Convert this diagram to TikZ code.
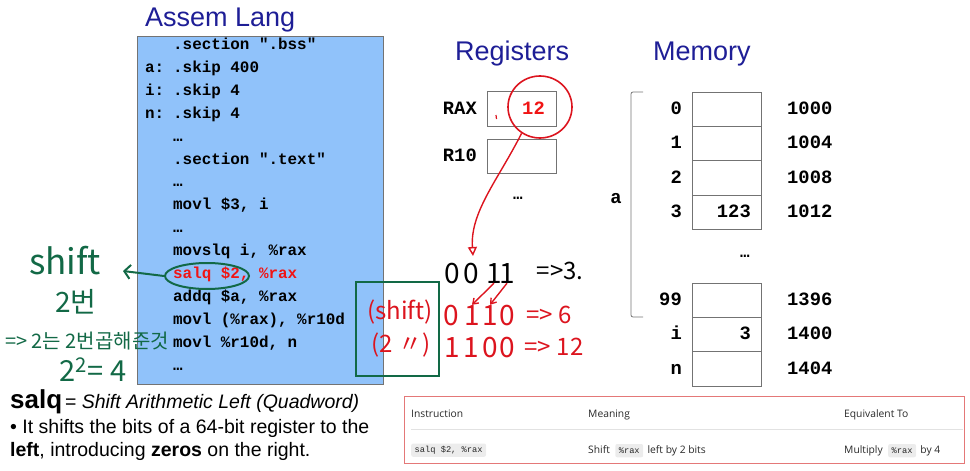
\documentclass[tikz,border=0pt]{standalone}
\usepackage{fontspec}
\setmainfont{Liberation Sans}
\setmonofont{Liberation Mono}
\newfontfamily\handfont{Noto Sans CJK KR}
\newfontfamily\tablefont{Open Sans}
\usetikzlibrary{arrows.meta,positioning,calc,shapes.geometric}
\definecolor{navy2}{RGB}{30,30,150}
\definecolor{codebg}{RGB}{144,194,250}
\definecolor{boxgray}{RGB}{115,115,115}
\definecolor{codered}{RGB}{240,20,20}
\definecolor{redink}{RGB}{220,20,30}
\definecolor{greenink}{RGB}{18,105,70}
\definecolor{tablered}{RGB}{228,120,120}
\definecolor{chipgray}{RGB}{236,236,236}
\definecolor{sepgray}{RGB}{226,226,226}
\definecolor{tabletext}{RGB}{40,40,40}
\newcommand\inksize[1]{\fontsize{#1}{#1}\selectfont}
\tikzset{
  titletext/.style={font=\inksize{27}, text=navy2, inner sep=0pt, anchor=base west},
  codeline/.style={font=\inksize{15.9}\ttfamily\bfseries, inner sep=0pt, anchor=base west},
  memtext/.style={font=\inksize{18.8}\ttfamily\bfseries, inner sep=0pt, text height=11pt, text depth=0pt},
  cell/.style={draw=boxgray, thick, minimum width=69, minimum height=34.3, outer sep=0pt, inner sep=0pt},
  greenhand/.style={text=greenink, inner sep=0pt},
  redhand/.style={text=redink, inner sep=0pt, font=\handfont\inksize{24}},
  digit/.style={inner sep=0pt, font=\handfont\inksize{28}, text height=20pt, text depth=0pt},
  tabtext/.style={font=\tablefont\inksize{10.3}, text=tabletext, inner sep=0pt, anchor=base west},
  chip/.style={fill=chipgray, rounded corners=2pt, font=\ttfamily\inksize{8.7}, text=tabletext,
    inner xsep=3.5pt, inner ysep=2.5pt, text height=6.5pt, text depth=1.8pt, anchor=base west},
  inkarrow/.style={-{Straight Barb[length=5pt, width=7pt]}, line width=1.4pt}
}
\begin{document}
\begin{tikzpicture}[x=1pt, y=-1pt]
\useasboundingbox (0,0) rectangle (970,471);

% Assembly listing
\node[titletext] (asmtitle) at (145,27) {Assem Lang};
\node[draw=boxgray, thick, fill=codebg, minimum width=246, minimum height=348,
  anchor=north west, inner sep=0pt] (codebox) at (137,36) {};
\foreach \txt [count=\k from 0] in {{.section ".bss"}, {.skip 400}, {.skip 4}, {.skip 4}, {…},
    {.section ".text"}, {…}, {movl \$3, i}, {…}, {movslq i, \%rax},
    {\textcolor{codered}{salq \$2, \%rax}}, {addq \$a, \%rax}, {movl (\%rax), \%r10d},
    {movl \%r10d, n}, {…}}
  \node[codeline] (code\k) at (173, 49.5+22.9*\k) {\txt};
\node[codeline] (labela) at (145,72.4) {a:};
\node[codeline] (labeli) at (145,95.3) {i:};
\node[codeline] (labeln) at (145,118.2) {n:};

% Registers
\node[titletext] (regtitle) at (455,60) {Registers};
\node[cell, minimum height=35, anchor=north west] (rax) at (487,91) {};
\node[cell, minimum height=34, below=13pt of rax] (r10) {};
\node[memtext, left=10pt of rax] (raxlbl) {RAX};
\node[memtext, left=10pt of r10] (r10lbl) {R10};
\node[memtext, anchor=east, text=codered] (raxval) at ($(rax.east)+(-11,0)$) {12};
\node[codeline, anchor=base] (regdots) at (518,199) {…};

% Memory
\node[titletext] (memtitle) at (653,60) {Memory};
\node[cell, anchor=north west] (m0) at (692,92) {};
\node[cell, below=0pt of m0] (m1) {};
\node[cell, below=0pt of m1] (m2) {};
\node[cell, below=0pt of m2] (m3) {};
\node[cell, anchor=north west] (m99) at (692,283) {};
\node[cell, below=0pt of m99] (mi) {};
\node[cell, below=0pt of mi] (mn) {};
\foreach \c/\lbl/\addr in {m0/0/1000, m1/1/1004, m2/2/1008, m3/3/1012, m99/99/1396, mi/i/1400, mn/n/1404} {
  \node[memtext, left=10pt of \c] (idx\c) {\lbl};
  \node[memtext, right=26pt of \c] (addr\c) {\addr};
}
\node[memtext, anchor=east] (val3) at ($(m3.east)+(-10,0)$) {123};
\node[memtext, anchor=east] (vali) at ($(mi.east)+(-10,0)$) {3};
\node[codeline, anchor=base] (memdots) at (745,257) {…};
\draw[boxgray, thick, rounded corners=2pt] (643,92) -- (631,92) -- (631,317) -- (643,317);
\node[memtext] (arrlbl) at (616,198) {a};

% green notes
\node[ellipse, draw=greenink, line width=2pt, minimum width=84, minimum height=26] (salqring) at (207,276) {};
\coordinate (shiftarrow) at (123,271);
\draw[greenink, line width=2pt, -{Straight Barb[length=6pt, width=14pt]}] (salqring.west) -- (shiftarrow);
\node[greenhand, font=\handfont\inksize{35}] (shiftnote) at (65,261) {shift};
\node[greenhand, font=\handfont\inksize{28}] (twonote) at (76,302) {2번};
\node[greenhand, font=\handfont\inksize{20}] (multnote) at (87,341) {=> 2는 2번곱해준것};
\node[greenhand, font=\handfont\inksize{29}] (squarenote) at (93,370) {2\textsuperscript{2}= 4};
\node[draw=greenink, line width=2.4pt, minimum width=83, minimum height=94, anchor=north west,
  inner sep=0pt] (shiftbox) at (355,281) {};

% red notes
\node[ellipse, draw=redink, line width=1.6pt, minimum width=64, minimum height=62] (ring12) at (540,107) {};
\draw[redink, line width=1.2pt] (496,115) -- (496.5,119);
\coordinate (arrowtip) at (473,256);
\draw[redink, line width=1.4pt, -{Triangle[open, length=9pt, width=9pt]}]
  (ring12.235) .. controls (498,180) and (470,212) .. (arrowtip);
\foreach \x/\d [count=\k] in {452/0, 471/0, 494/1, 507/1}
  \node[digit] (top\k) at (\x,273) {\d};
\foreach \x/\d [count=\k] in {451/0, 472/1, 490/1, 507/0}
  \node[digit, text=redink] (mid\k) at (\x,315) {\d};
\foreach \x/\d [count=\k] in {452/1, 471/1, 490/0, 507/0}
  \node[digit, text=redink] (bot\k) at (\x,347) {\d};
\node[inner sep=0pt, font=\handfont\inksize{24}] (res3) at (560,271) {=>3.};
\node[redhand] (res6) at (549,315) {=> 6};
\node[redhand] (res12) at (554,347) {=> 12};
\node[redhand] (shiftlbl) at (400,312) {(shift)};
\node[redhand] (twolbl) at (401,345) {(2 〃)};
\draw[redink, inkarrow] (top3.south) -- (mid2.north);
\draw[redink, inkarrow] (top4.south) -- (mid3.north);

% salq description
\node[anchor=base west, inner sep=0pt] (salqdef) at (10,408)
  {{\inksize{26}\bfseries salq} {\inksize{19.5}= \itshape Shift Arithmetic Left (Quadword)}};
\node[anchor=base west, inner sep=0pt, font=\inksize{19.5}] (salqinfo1) at (10,433)
  {• It shifts the bits of a 64-bit register to the};
\node[anchor=base west, inner sep=0pt, font=\inksize{19.5}] (salqinfo2) at (10,456)
  {\textbf{left}, introducing \textbf{zeros} on the right.};

% comparison table
\node[draw=tablered, line width=1pt, minimum width=560, minimum height=67, anchor=north west,
  inner sep=0pt] (cmptable) at (404,396) {};
\draw[sepgray] (411,429) -- (963,429);
\node[tabtext] (hinstr) at (411,417) {Instruction};
\node[tabtext] (hmean) at (588,417) {Meaning};
\node[tabtext] (hequiv) at (844,417) {Equivalent To};
\node[chip] (cinstr) at (411,452.5) {salq \$2, \%rax};
\node[tabtext] (rshift) at (588,453) {Shift};
\node[chip] (crax1) at ($(rshift.base east)+(5,0)$) {\%rax};
\node[tabtext] (rleft) at ($(crax1.base east)+(4,0)$) {left by 2 bits};
\node[tabtext] (rmult) at (844,453) {Multiply};
\node[chip] (crax2) at ($(rmult.base east)+(5,0)$) {\%rax};
\node[tabtext] (rby) at ($(crax2.base east)+(4,0)$) {by 4};
\end{tikzpicture}
\end{document}
